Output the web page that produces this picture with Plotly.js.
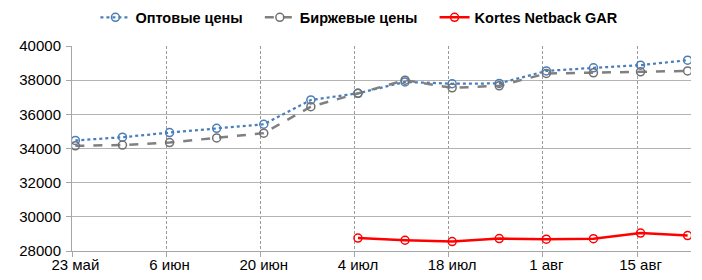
<!DOCTYPE html>
<html><head><meta charset="utf-8">
<script src="https://cdn.plot.ly/plotly-3.0.1.min.js"></script>
<style>html,body{margin:0;padding:0;background:#fff}#chart{width:702px;height:280px}</style>
</head><body><div id="chart"></div>
<script>
const dates = ['2016-05-23','2016-05-30','2016-06-06','2016-06-13','2016-06-20','2016-06-27','2016-07-04','2016-07-11','2016-07-18','2016-07-25','2016-08-01','2016-08-08','2016-08-15','2016-08-22'];
const wholesale = [34470,34660,34930,35180,35420,36840,37230,37900,37790,37810,38540,38720,38880,39170];
const exchange = [34160,34200,34350,34620,34900,36450,37230,38000,37550,37670,38390,38430,38490,38540];
const kortes = [null,null,null,null,null,null,28760,28630,28550,28730,28690,28720,29050,28900];
const tickDates = ['2016-05-23','2016-06-06','2016-06-20','2016-07-04','2016-07-18','2016-08-01','2016-08-15'];
const tickLabels = ['23 май','6 июн','20 июн','4 июл','18 июл','1 авг','15 авг'];
const names = ['Оптовые цены','Биржевые цены','Kortes Netback GAR'];
const axisStart = '2016-05-23', axisEnd = '2016-08-23';

// day offsets from the axis start (the library scales these)
const day = d => (Date.parse(d + 'T00:00:00Z') - Date.parse(axisStart + 'T00:00:00Z')) / 86400000;
const xs = dates.map(d => day(d) + 0.5);
const pad = n => '\u00a0'.repeat(n);
const mk = (c) => ({symbol:'circle-open', size:8, color:c, line:{width:1.5, color:c}});
const traces = [
  {x:xs, y:wholesale, name:names[0] + pad(3), mode:'lines+markers', line:{color:'#4a7ebb', width:2.25, dash:'dot'}, marker:mk('#4a7ebb')},
  {x:xs, y:exchange, name:names[1] + pad(3), mode:'lines+markers', line:{color:'#808080', width:2.5, dash:'dash'}, marker:mk('#707070')},
  {x:xs, y:kortes, name:names[2], mode:'lines+markers', line:{color:'#ff0000', width:2.5}, marker:mk('#ff0000'), connectgaps:false}
];
const layout = {
  width:702, height:280,
  margin:{l:72, r:11, t:46, b:29},
  paper_bgcolor:'#fff', plot_bgcolor:'#fff',
  font:{family:'Liberation Sans, Arial, sans-serif', size:15, color:'#000'},
  showlegend:true,
  legend:{orientation:'h', x:0.512, xanchor:'center', xref:'container', y:0.995, yref:'container', yanchor:'top',
          font:{size:14.5, weight:'bold'}, itemwidth:30, tracegroupgap:0},
  xaxis:{type:'linear', range:[day(axisStart), day(axisEnd)], tickmode:'array',
         tickvals:tickDates.map(d => day(d) + 0.5), ticktext:tickLabels, automargin:false,
         showgrid:false, ticks:'', showline:true, linecolor:'#a6a6a6', linewidth:1,
         minor:{tickmode:'array', tickvals:tickDates.map(day), showgrid:true, gridcolor:'#9a9a9a', griddash:'3px,2px', gridwidth:1,
                ticks:'outside', ticklen:5, tickcolor:'#a6a6a6', tickwidth:1},
         zeroline:false, fixedrange:true},
  yaxis:{range:[28000,40000], dtick:2000, tickformat:'d', showgrid:true, gridcolor:'#b3b3b3', gridwidth:1,
         showline:true, linecolor:'#a6a6a6', linewidth:1, ticks:'outside', ticklen:5, tickcolor:'#a6a6a6',
         zeroline:false, ticklabelstandoff:2, automargin:false, fixedrange:true}
};
Plotly.newPlot('chart', traces, layout, {displayModeBar:false, staticPlot:true});
</script></body></html>
